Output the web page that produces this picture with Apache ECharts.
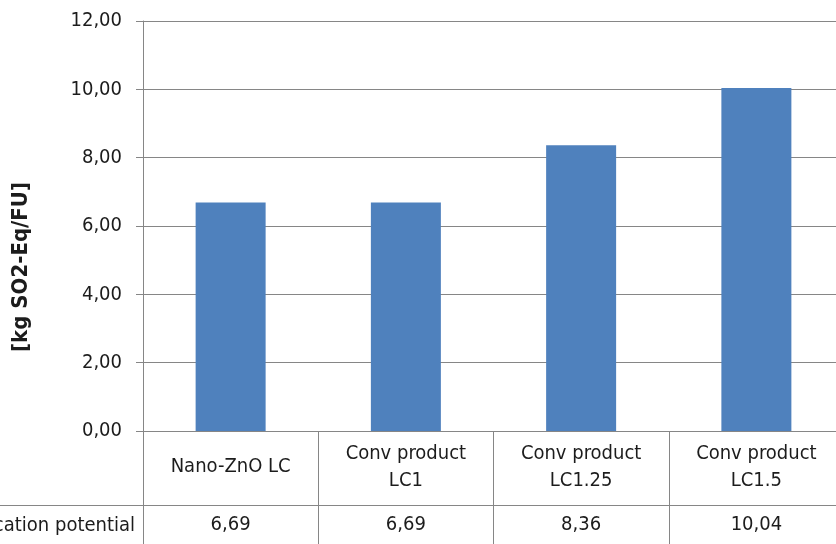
<!DOCTYPE html>
<html>
<head>
<meta charset="utf-8">
<script src="https://cdn.jsdelivr.net/npm/echarts@6/dist/echarts.min.js"></script>
<style>
  html, body { margin: 0; padding: 0; background: #ffffff; }
  #chart { width: 836px; height: 544px; }
</style>
</head>
<body>
<div id="chart"></div>
<script>
// Acidification potential per functional unit
const categories = ['Nano-ZnO LC', 'Conv product\nLC1', 'Conv product\nLC1.25', 'Conv product\nLC1.5'];
const values = [6.69, 6.69, 8.36, 10.04];
const rowLabel = 'Acidification potential';
const yAxisName = '[kg SO2-Eq/FU]';
const yMin = 0, yMax = 12, yStep = 2;

const FONT = "'DejaVu Sans Condensed', 'Open Sans', sans-serif";
const TEXT = '#1c1c1c';
const LINE = '#868686';
const FS = 20;

// decimal comma, two places
const fmt = v => Number(v).toFixed(2).replace('.', ',');

const chart = echarts.init(document.getElementById('chart'), null, { renderer: 'canvas' });

const gridLeft = 143, gridTop = 21, gridBottom = 113, gridWidth = 701;

chart.setOption({
  animation: false,
  backgroundColor: '#ffffff',
  grid: {
    left: gridLeft, top: gridTop, bottom: gridBottom, width: gridWidth,
    containLabel: false, outerBoundsMode: 'none'
  },
  xAxis: [
    {
      type: 'category',
      data: categories,
      boundaryGap: true,
      axisLine: { show: true, lineStyle: { color: LINE, width: 1 } },
      axisTick: { show: true, interval: 0, length: 113, lineStyle: { color: LINE, width: 1 } },
      axisLabel: {
        interval: 0, margin: 36, verticalAlign: 'middle',
        color: TEXT, fontFamily: FONT, fontSize: FS, lineHeight: 27
      }
    },
    {
      // value row of the data table
      type: 'category',
      data: categories,
      position: 'bottom',
      boundaryGap: true,
      axisLine: { show: false },
      axisTick: { show: false },
      axisLabel: {
        interval: 0, margin: 94, verticalAlign: 'middle',
        color: TEXT, fontFamily: FONT, fontSize: FS,
        formatter: (v, i) => fmt(values[i])
      }
    }
  ],
  yAxis: {
    type: 'value',
    min: yMin, max: yMax, interval: yStep,
    axisLine: { show: true, lineStyle: { color: LINE, width: 1 } },
    axisTick: { show: true, length: 7, lineStyle: { color: LINE, width: 1 } },
    splitLine: { show: true, lineStyle: { color: LINE, width: 1 } },
    axisLabel: { margin: 21, color: TEXT, fontFamily: FONT, fontSize: FS, formatter: v => fmt(v) }
  },
  series: [{
    type: 'bar',
    data: values,
    barWidth: 70,
    itemStyle: { color: '#4F81BD' }
  }]
});

// table rule between the category row and the value row, row title, axis title
const y0 = chart.convertToPixel({ yAxisIndex: 0 }, 0);
const ruleY = Math.round(y0 + 74) + 0.5;
chart.setOption({
  graphic: [
    {
      type: 'line', silent: true,
      shape: { x1: 0, y1: ruleY, x2: 836, y2: ruleY },
      style: { stroke: LINE, lineWidth: 1 }
    },
    {
      type: 'text', silent: true,
      x: gridLeft - 8, y: ruleY + 20,
      style: {
        text: rowLabel, fill: TEXT, font: FS + "px " + FONT,
        textAlign: 'right', textVerticalAlign: 'middle'
      }
    },
    {
      type: 'text', silent: true,
      x: 21, y: 267, rotation: Math.PI / 2,
      style: {
        text: yAxisName, fill: TEXT, font: "bold 22px " + FONT,
        textAlign: 'center', textVerticalAlign: 'middle'
      }
    }
  ]
});
</script>
</body>
</html>
